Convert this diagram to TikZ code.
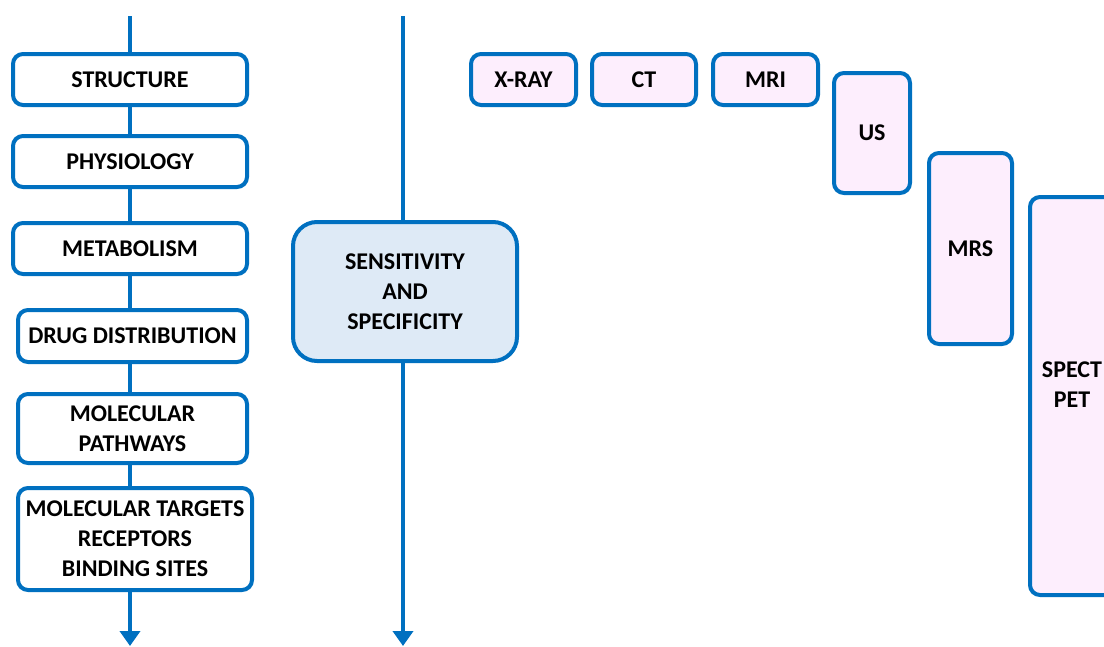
\documentclass[tikz,border=0pt]{standalone}
\usepackage{fontspec}
\setmainfont{Carlito}
\usetikzlibrary{arrows.meta}
\definecolor{bl}{HTML}{0070C0}
\definecolor{pinkfill}{HTML}{FDEEFD}
\definecolor{bluefill}{HTML}{DEEAF6}
\begin{document}
\begin{tikzpicture}[x=1pt,y=-1pt,
  box/.style={draw=bl, line width=4pt, rounded corners=10pt, fill=white, align=center,
    font=\fontsize{24}{30}\selectfont\bfseries, inner sep=0pt},
  modal/.style={box, fill=pinkfill},
  conn/.style={draw=bl, line width=4.5pt},
  arr/.style={conn, -{Triangle[width=20pt,length=15pt]}}]
\useasboundingbox (0,0) rectangle (1104,646);
% left column
\node[box, minimum width=234pt, minimum height=51pt] (s1) at (130,79.5) {STRUCTURE};
\node[box, minimum width=234pt, minimum height=51pt] (s2) at (130,161.5) {PHYSIOLOGY};
\node[box, minimum width=234pt, minimum height=51pt] (s3) at (130,248.5) {METABOLISM};
\node[box, minimum width=229pt, minimum height=52pt] (s4) at (132.5,336) {DRUG DISTRIBUTION};
\node[box, minimum width=229pt, minimum height=69pt] (s5) at (132.5,428.5) {MOLECULAR\\PATHWAYS};
\node[box, minimum width=234pt, minimum height=102pt] (s6) at (135,539) {MOLECULAR TARGETS\\RECEPTORS\\BINDING SITES};
\coordinate (lt) at (130,16);
\coordinate (lb) at (130,646);
\draw[conn] (lt) -- (lt |- s1.north);
\draw[conn] (lt |- s1.south) -- (lt |- s2.north);
\draw[conn] (lt |- s2.south) -- (lt |- s3.north);
\draw[conn] (lt |- s3.south) -- (lt |- s4.north);
\draw[conn] (lt |- s4.south) -- (lt |- s5.north);
\draw[conn] (lt |- s5.south) -- (lt |- s6.north);
\draw[arr] (lt |- s6.south) -- (lb);
% middle column
\node[box, fill=bluefill, rounded corners=24pt, minimum width=224pt, minimum height=139pt] (sens) at (405,291.5) {SENSITIVITY\\AND\\SPECIFICITY};
\coordinate (mt) at (403,16);
\coordinate (mb) at (403,646);
\draw[conn] (mt) -- (mt |- sens.north);
\draw[arr] (mt |- sens.south) -- (mb);
% modalities
\node[modal, minimum width=105pt, minimum height=51pt] (xray) at (523.5,79.5) {X-RAY};
\node[modal, minimum width=104pt, minimum height=51pt] (ct) at (644,79.5) {CT};
\node[modal, minimum width=105pt, minimum height=51pt] (mri) at (765.5,79.5) {MRI};
\node[modal, minimum width=76pt, minimum height=120pt] (us) at (872,133) {US};
\node[modal, minimum width=83pt, minimum height=191pt] (mrs) at (970.5,248.5) {MRS};
\node[modal, minimum width=84pt, minimum height=398pt] (spect) at (1072,396) {};
\node[font=\fontsize{24}{30}\selectfont\bfseries, align=center, inner sep=0pt] (spectlbl) at (1072,385) {SPECT\\PET};
\end{tikzpicture}
\end{document}
